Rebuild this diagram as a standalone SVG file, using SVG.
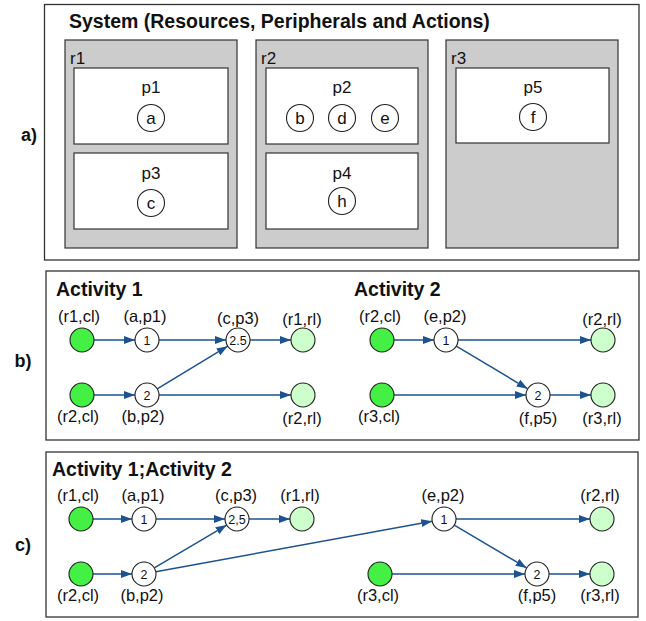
<svg xmlns="http://www.w3.org/2000/svg" width="646" height="621" viewBox="0 0 646 621">
<style>
  text { font-family: "Liberation Sans", Arial, Helvetica, sans-serif; fill: #111; }
  .title { font-weight: bold; font-size: 19.5px; }
  .sec { font-weight: bold; font-size: 18px; text-anchor: middle; }
  .lbl { font-size: 16.5px; text-anchor: middle; }
  .let { font-size: 17px; text-anchor: middle; }
  .rl { font-size: 17px; }
  .pl { font-size: 17px; text-anchor: middle; }
  .num { font-size: 12.5px; text-anchor: middle; }
  .frame { fill: #ffffff; stroke: #333333; stroke-width: 1.3; }
  .res { fill: #cccccc; stroke: #333333; stroke-width: 1.2; }
  .per { fill: #ffffff; stroke: #333333; stroke-width: 1.2; }
  .act { fill: #ffffff; stroke: #222222; stroke-width: 1.1; }
  .cl { fill: #44f044; stroke: #222222; stroke-width: 1.1; }
  .rlnode { fill: #ccffcc; stroke: #222222; stroke-width: 1.1; }
  .edge { stroke: #1d5290; stroke-width: 1.5; fill: none; marker-end: url(#arr); }
</style>
<defs>
  <marker id="arr" markerUnits="userSpaceOnUse" markerWidth="12" markerHeight="9" refX="11" refY="4" orient="auto">
    <path d="M0,0 L11,4 L0,8 z" fill="#1d5290"/>
  </marker>
</defs>

<!-- Section labels -->
<text class="sec" x="29" y="141">a)</text>
<text class="sec" x="23" y="367">b)</text>
<text class="sec" x="23" y="551">c)</text>

<!-- Panel a -->
<g id="panel-a">
  <rect class="frame" x="44.5" y="4.5" width="594.5" height="255.5"/>
  <text class="title" x="69" y="27.5">System (Resources, Peripherals and Actions)</text>
</g>
<g id="r1">
  <rect class="res" x="65" y="40" width="172" height="208"/>
  <text class="rl" x="70" y="64">r1</text>
</g>
<g id="p1">
  <rect class="per" x="74" y="68" width="154" height="76"/>
  <text class="pl" x="151" y="93">p1</text>
  <circle class="act" cx="151" cy="118" r="13.5"/>
  <text class="let" x="151" y="124">a</text>
</g>
<g id="p3">
  <rect class="per" x="74" y="153" width="154" height="76"/>
  <text class="pl" x="151" y="179">p3</text>
  <circle class="act" cx="151" cy="203" r="13.5"/>
  <text class="let" x="151" y="209">c</text>
</g>
<g id="r2">
  <rect class="res" x="256" y="40" width="172" height="208"/>
  <text class="rl" x="261" y="64">r2</text>
</g>
<g id="p2">
  <rect class="per" x="266" y="68" width="152" height="76"/>
  <text class="pl" x="342" y="93">p2</text>
  <circle class="act" cx="300" cy="118" r="13.5"/>
  <text class="let" x="300" y="124">b</text>
  <circle class="act" cx="342" cy="118" r="13.5"/>
  <text class="let" x="342" y="124">d</text>
  <circle class="act" cx="385" cy="118" r="13.5"/>
  <text class="let" x="385" y="124">e</text>
</g>
<g id="p4">
  <rect class="per" x="266" y="153" width="152" height="76"/>
  <text class="pl" x="342" y="179">p4</text>
  <circle class="act" cx="342" cy="201" r="13.5"/>
  <text class="let" x="342" y="207">h</text>
</g>
<g id="r3">
  <rect class="res" x="446" y="40" width="172" height="208"/>
  <text class="rl" x="451" y="64">r3</text>
</g>
<g id="p5">
  <rect class="per" x="456" y="68" width="153" height="75"/>
  <text class="pl" x="533" y="93">p5</text>
  <circle class="act" cx="533" cy="117" r="13.5"/>
  <text class="let" x="533" y="123">f</text>
</g>

<!-- Panel b -->
<g id="panel-b">
  <rect class="frame" x="46" y="271" width="593" height="169"/>
  <text class="title" x="56" y="296">Activity 1</text>
  <text class="title" x="354" y="296">Activity 2</text>
</g>
<g id="connectors-b">
  <line class="edge" x1="94" y1="340" x2="135" y2="340"/>
  <line class="edge" x1="159" y1="340" x2="226" y2="340"/>
  <line class="edge" x1="250" y1="340" x2="291" y2="340"/>
  <line class="edge" x1="94" y1="395" x2="135" y2="395"/>
  <line class="edge" x1="159" y1="395" x2="291" y2="395"/>
  <line class="edge" x1="157.2" y1="388.8" x2="227.7" y2="346.2"/>
  <line class="edge" x1="394" y1="340" x2="434" y2="340"/>
  <line class="edge" x1="458" y1="340" x2="591" y2="340"/>
  <line class="edge" x1="456.3" y1="346.2" x2="527.7" y2="388.8"/>
  <line class="edge" x1="394" y1="395" x2="526" y2="395"/>
  <line class="edge" x1="550" y1="395" x2="591" y2="395"/>
</g>
<g id="b-r1cl"><circle class="cl" cx="82" cy="340" r="12"/><text class="lbl" x="79" y="322">(r1,cl)</text></g>
<g id="b-a1"><circle class="act" cx="147" cy="340" r="12"/><text class="num" x="147" y="344.5">1</text><text class="lbl" x="145" y="322">(a,p1)</text></g>
<g id="b-c3"><circle class="act" cx="238" cy="340" r="12"/><text class="num" x="238" y="344.5">2.5</text><text class="lbl" x="238" y="324">(c,p3)</text></g>
<g id="b-r1rl"><circle class="rlnode" cx="303" cy="340" r="12"/><text class="lbl" x="302" y="325">(r1,rl)</text></g>
<g id="b-r2cl"><circle class="cl" cx="82" cy="395" r="12"/><text class="lbl" x="78" y="422">(r2,cl)</text></g>
<g id="b-b2"><circle class="act" cx="147" cy="395" r="12"/><text class="num" x="147" y="399.5">2</text><text class="lbl" x="143" y="422">(b,p2)</text></g>
<g id="b-r2rl"><circle class="rlnode" cx="303" cy="395" r="12"/><text class="lbl" x="302" y="424">(r2,rl)</text></g>
<g id="b-r2cl2"><circle class="cl" cx="382" cy="340" r="12"/><text class="lbl" x="380" y="322">(r2,cl)</text></g>
<g id="b-e2"><circle class="act" cx="446" cy="340" r="12"/><text class="num" x="446" y="344.5">1</text><text class="lbl" x="445" y="322">(e,p2)</text></g>
<g id="b-r2rl2"><circle class="rlnode" cx="603" cy="340" r="12"/><text class="lbl" x="602" y="325">(r2,rl)</text></g>
<g id="b-r3cl"><circle class="cl" cx="382" cy="395" r="12"/><text class="lbl" x="379" y="422">(r3,cl)</text></g>
<g id="b-f5"><circle class="act" cx="538" cy="395" r="12"/><text class="num" x="538" y="399.5">2</text><text class="lbl" x="538" y="424">(f,p5)</text></g>
<g id="b-r3rl"><circle class="rlnode" cx="603" cy="395" r="12"/><text class="lbl" x="602" y="424">(r3,rl)</text></g>

<!-- Panel c -->
<g id="panel-c">
  <rect class="frame" x="46" y="452" width="592" height="165"/>
  <text class="title" x="52" y="476">Activity 1;Activity 2</text>
</g>
<g id="connectors-c">
  <line class="edge" x1="93" y1="519" x2="132" y2="519"/>
  <line class="edge" x1="156" y1="519" x2="225" y2="519"/>
  <line class="edge" x1="249" y1="519" x2="290" y2="519"/>
  <line class="edge" x1="93" y1="574" x2="132" y2="574"/>
  <line class="edge" x1="154.3" y1="567.9" x2="226.7" y2="525.1"/>
  <line class="edge" x1="155.8" y1="571.8" x2="432.2" y2="521.2"/>
  <line class="edge" x1="456" y1="519" x2="590" y2="519"/>
  <line class="edge" x1="454.3" y1="525.1" x2="526.7" y2="567.9"/>
  <line class="edge" x1="392" y1="574" x2="525" y2="574"/>
  <line class="edge" x1="549" y1="574" x2="590" y2="574"/>
</g>
<g id="c-r1cl"><circle class="cl" cx="81" cy="519" r="12"/><text class="lbl" x="78" y="501">(r1,cl)</text></g>
<g id="c-a1"><circle class="act" cx="144" cy="519" r="12"/><text class="num" x="144" y="523.5">1</text><text class="lbl" x="143" y="501">(a,p1)</text></g>
<g id="c-c3"><circle class="act" cx="237" cy="519" r="12"/><text class="num" x="237" y="523.5">2,5</text><text class="lbl" x="236" y="501">(c,p3)</text></g>
<g id="c-r1rl"><circle class="rlnode" cx="302" cy="519" r="12"/><text class="lbl" x="300" y="501">(r1,rl)</text></g>
<g id="c-r2cl"><circle class="cl" cx="81" cy="574" r="12"/><text class="lbl" x="78" y="601">(r2,cl)</text></g>
<g id="c-b2"><circle class="act" cx="144" cy="574" r="12"/><text class="num" x="144" y="578.5">2</text><text class="lbl" x="142" y="601">(b,p2)</text></g>
<g id="c-e2"><circle class="act" cx="444" cy="519" r="12"/><text class="num" x="444" y="523.5">1</text><text class="lbl" x="443" y="501">(e,p2)</text></g>
<g id="c-r2rl"><circle class="rlnode" cx="602" cy="519" r="12"/><text class="lbl" x="600" y="501">(r2,rl)</text></g>
<g id="c-r3cl"><circle class="cl" cx="380" cy="574" r="12"/><text class="lbl" x="378" y="601">(r3,cl)</text></g>
<g id="c-f5"><circle class="act" cx="537" cy="574" r="12"/><text class="num" x="537" y="578.5">2</text><text class="lbl" x="537" y="601">(f,p5)</text></g>
<g id="c-r3rl"><circle class="rlnode" cx="602" cy="574" r="12"/><text class="lbl" x="600" y="601">(r3,rl)</text></g>
</svg>
